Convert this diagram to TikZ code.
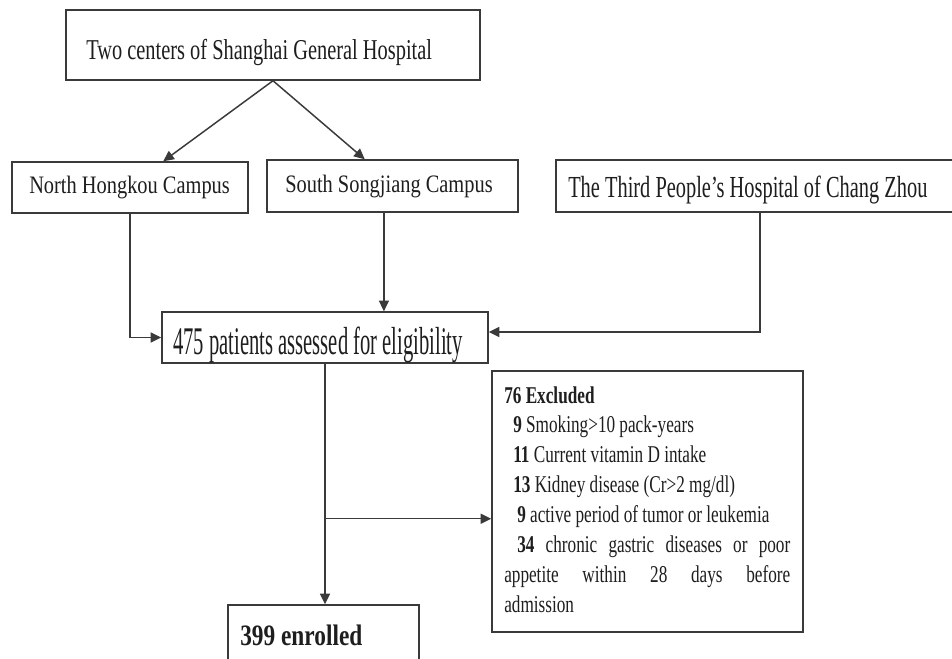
\documentclass[tikz,border=0pt]{standalone}
\usepackage{fontspec}
\setmainfont{Liberation Serif}
\usepackage{graphicx}
\usetikzlibrary{arrows.meta,calc}
\definecolor{linec}{HTML}{3A3A3A}
\definecolor{txtc}{HTML}{1E1E1E}
\begin{document}
\begin{tikzpicture}[x=0.75pt,y=-0.75pt,
  box/.style={draw=linec, line width=1.1pt, inner sep=0pt, rectangle},
  sz/.style n args={2}{minimum width={#1*0.75pt}, minimum height={#2*0.75pt}},
  lbl/.style={anchor=base west, inner sep=0pt, text=txtc},
  mainfont/.style={font=\fontsize{15.3pt}{18pt}\selectfont},
  conn/.style={draw=linec, line width=1.1pt},
  arr/.style={conn, -{Triangle[length=8pt,width=7.5pt]}},
]
\useasboundingbox (0,0) rectangle (952,659);
\clip (0,0) rectangle (952,659);
\fill[white] (0,0) rectangle (952,659);

% boxes
\node[box, sz={414}{70}] (top) at (273,45) {};
\node[box, sz={236}{51}] (north) at (130,187.5) {};
\node[box, sz={251}{52}] (south) at (392.5,186) {};
\node[box, sz={414}{52}] (third) at (763,186) {};
\node[box, sz={326}{51}] (elig) at (325,337.5) {};
\node[box, sz={311}{261}] (excl) at (647.5,501.5) {};
\node[box, sz={191}{95}] (enr) at (323.5,652.5) {};

% texts
\node[lbl, mainfont] (ttop) at (86,60) {\scalebox{1}[1.41]{Two centers of Shanghai General Hospital}};
\node[lbl, mainfont] (tnorth) at (29,194) {\scalebox{1}[1.23]{North Hongkou Campus}};
\node[lbl, mainfont] (tsouth) at (285,193) {\scalebox{1}[1.23]{South Songjiang Campus}};
\node[lbl, mainfont] (tthird) at (568,198) {\scalebox{1}[1.5]{The Third People's Hospital of Chang Zhou}};
\node[lbl, font=\fontsize{15.45pt}{18pt}\selectfont] (telig) at (173,354) {\scalebox{1}[1.9]{475 patients assessed for eligibility}};
\node[lbl, font=\fontsize{17.5pt}{20pt}\selectfont\bfseries] (tenr) at (240,645) {\scalebox{1}[1.27]{399 enrolled}};
\node[lbl, font=\fontsize{12.9pt}{16pt}\selectfont] (texcl) at (504,403) {\scalebox{1}[1.4]{\parbox[t]{214.5pt}{\setlength{\parindent}{0pt}%
\textbf{76 Excluded}\par
\hspace*{6.75pt}\textbf{9} Smoking>10 pack-years\par
\hspace*{6.75pt}\textbf{11} Current vitamin D intake\par
\hspace*{6.75pt}\textbf{13} Kidney disease (Cr>2 mg/dl)\par
\hspace*{9.75pt}\textbf{9} active period of tumor or leukemia\par
\makebox[\linewidth][s]{\hspace*{9.75pt}\textbf{34} chronic gastric diseases or poor}\par
\makebox[\linewidth][s]{appetite within 28 days before}\par
admission}}};

% connectors
\draw[arr] (top.south) -- ($(north.north west)!0.64!(north.north east)$);
\draw[arr] (top.south) -- ($(south.north west)!0.39!(south.north east)$);
\draw[arr] (north.south) |- (elig.west);
\draw[arr] ($(south.south west)!0.466!(south.south east)$) coordinate (s1) -- (s1 |- elig.north);
\draw[arr] ($(third.south)+(-3,0)$) |- ($(elig.east)+(0,-5.5)$);
\draw[arr] (elig.south) -- (elig.south |- enr.north);
\draw[arr] ($(elig.south)+(0,155)$) coordinate (br) -- (br -| excl.west);
\end{tikzpicture}
\end{document}
